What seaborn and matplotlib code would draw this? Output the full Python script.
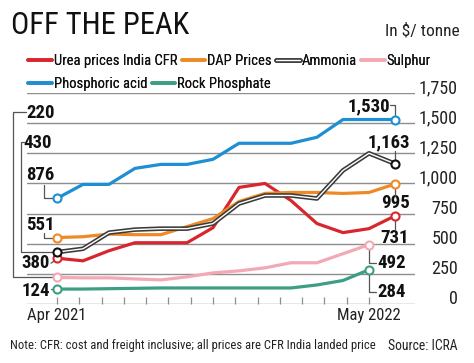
import os
import numpy as np
import matplotlib
matplotlib.use('Agg')
import matplotlib.pyplot as plt
import seaborn as sns
from matplotlib import font_manager as fm
from matplotlib.lines import Line2D
from matplotlib.legend_handler import HandlerTuple

# monthly prices, Apr 2021 .. May 2022 (in $/tonne)
months = list(range(14))
urea = [380, 358, 442, 508, 508, 508, 633, 967, 1000, 858, 667, 592, 625, 731]
dap = [551, 558, 580, 575, 575, 642, 708, 850, 917, 925, 925, 917, 925, 995]
ammonia = [430, 458, 592, 617, 625, 625, 667, 833, 900, 900, 875, 1108, 1250, 1163]
phos_acid = [876, 992, 992, 1125, 1158, 1158, 1200, 1333, 1333, 1333, 1383, 1530, 1530, 1530]
sulphur = [220, 217, 217, 208, 200, 225, 258, 275, 300, 342, 342, 417, 492]
rock = [124, 124, 127, 130, 133, 133, 133, 133, 133, 133, 158, 195, 284]

y_ticks = [0, 250, 500, 750, 1000, 1250, 1500, 1750]
y_labels = ['0', '250', '500', '750', '1,000', '1,250', '1,500', '1,750']
x_first, x_last = 'Apr 2021', 'May 2022'

RED = '#d9262e'
ORANGE = '#ee8a25'
DARK = '#3a3a3a'
PINK = '#f2a9b3'
BLUE = '#1d8fd2'
GREEN = '#3d9e84'
GRID = '#8e8e8e'

sns.set_theme(style='white')

# look for a narrow / condensed face among the installed fonts
cands = ['liberationsansnarrow-regular', 'robotocondensed-regular',
         'opensans_condensed-regular', 'opensanscondensed-regular',
         'notosans-condensed.', 'notosans-condensedregular',
         'dejavusanscondensed.ttf']
chosen = None
for c in cands:
    for e in fm.fontManager.ttflist:
        if c in os.path.basename(e.fname).lower():
            chosen = e
            break
    if chosen is not None:
        break
if chosen is not None:
    plt.rcParams['font.family'] = [chosen.name, 'DejaVu Sans']
    plt.rcParams['font.stretch'] = chosen.stretch
else:
    plt.rcParams['font.family'] = ['DejaVu Sans']
plt.rcParams['text.color'] = '#111111'

W, H = 474, 363
fig = plt.figure(figsize=(W / 100, H / 100), dpi=100)
ax = fig.add_axes([27 / W, (H - 304) / H, 388 / W, 211 / H])
ax.set_xlim(-30 / 26, 13 + 20 / 26)
ax.set_ylim(0, 1750)

lw = 2.3
sns.lineplot(x=months, y=phos_acid, ax=ax, color=BLUE, lw=lw)
sns.lineplot(x=months[:len(rock)], y=rock, ax=ax, color=GREEN, lw=lw)
sns.lineplot(x=months[:len(sulphur)], y=sulphur, ax=ax, color=PINK, lw=lw)
sns.lineplot(x=months, y=urea, ax=ax, color=RED, lw=lw)
sns.lineplot(x=months, y=dap, ax=ax, color=ORANGE, lw=lw)
sns.lineplot(x=months, y=ammonia, ax=ax, color=DARK, lw=3.3)
sns.lineplot(x=months, y=ammonia, ax=ax, color='white', lw=1.0)

# open circles at the start and end of each series
for ser, col in [(phos_acid, BLUE), (rock, GREEN), (sulphur, PINK),
                 (urea, RED), (dap, ORANGE), (ammonia, '#111111')]:
    xs = [0, len(ser) - 1]
    ys = [ser[0], ser[-1]]
    ax.plot(xs, ys, ls='none', marker='o', ms=5.8, mfc='white', mec=col,
            mew=1.5, clip_on=False, zorder=5)

ax.set_yticks(y_ticks, labels=y_labels, ha='right', va='baseline')
ax.yaxis.tick_right()
ax.tick_params(axis='y', length=0, pad=31, labelsize=13, labelcolor='#222222')
ax.grid(axis='y', color=GRID, lw=1)
ax.grid(axis='x', visible=False)
xt = np.linspace(0, 12, 15)
xl = [''] * 15
xl[0], xl[-1] = x_first, x_last
ax.set_xticks(xt, labels=xl)
ax.tick_params(axis='x', direction='in', length=5, width=0.9, color=GRID,
               pad=3, labelsize=12, labelcolor='#222222', bottom=True)
for s in ax.spines.values():
    s.set_visible(False)
ax.set_xlabel('')
ax.set_ylabel('')

fig.canvas.draw()


def callout(xi, yv, label, lab_off, path, col='#555555'):
    px, py = ax.transData.transform((xi, yv))
    inv = ax.transData.inverted()
    pts = [inv.transform((px + dx, py - dy)) for dx, dy in path]
    ax.plot([p[0] for p in pts], [p[1] for p in pts], color=col, lw=0.9,
            clip_on=False, zorder=4)
    tx, ty = inv.transform((px + lab_off[0], py - lab_off[1]))
    ax.text(tx, ty, label, ha='center', va='center', fontsize=13.5,
            fontweight='bold', color='#111111', clip_on=False)


callout(0, phos_acid[0], '876', (-17, -23), [(-13, -13), (-13, 0), (-4, 0)])
callout(0, dap[0], '551', (-17, -13), [(-13, -5), (-13, 0), (-4, 0)])
callout(0, ammonia[0], '430', (-19, -109), [(-33, -110), (-36, -110), (-36, 0), (-4, 0)])
callout(0, sulphur[0], '220', (-16, -164), [(-31, -165), (-44, -165), (-44, 0), (-4, 0)])
callout(0, urea[0], '380', (-21, 5), [(-6, 5), (-3, 3)])
callout(0, rock[0], '124', (-21, 2), [(-6, 0), (-4, 0)])
callout(13, phos_acid[-1], '1,530', (-26, -13), [(-5, -15), (0, -15), (0, -4)])
callout(13, ammonia[-1], '1,163', (-6, -21), [(0, -13), (0, -4)])
callout(13, dap[-1], '995', (0, 19), [(0, 4), (0, 12)])
callout(13, urea[-1], '731', (0, 22), [(0, 4), (0, 14)])
callout(12, sulphur[-1], '492', (23, 18), [(0, 4), (0, 18), (7, 18)])
callout(12, rock[-1], '284', (23, 22), [(0, 4), (0, 22), (7, 22)])

# titles
fig.text(11 / W, 1 - 25 / H, 'OFF THE PEAK', fontsize=22, va='center',
         ha='left', color='#111111')
fig.text(460 / W, 1 - 31 / H, 'In $/ tonne', fontsize=12.5, va='center',
         ha='right', color='#222222')


def handle(col, dbl=False):
    if dbl:
        return (Line2D([], [], color=DARK, lw=3.3), Line2D([], [], color='white', lw=1.0))
    return Line2D([], [], color=col, lw=2.6)


row1 = [(handle(RED), 'Urea prices India CFR'), (handle(ORANGE), 'DAP Prices'),
        (handle(DARK, True), 'Ammonia'), (handle(PINK), 'Sulphur')]
row2 = [(handle(BLUE), 'Phosphoric acid'), (handle(GREEN), 'Rock Phosphate')]
for row, yc in [(row1, 61), (row2, 84)]:
    leg = fig.legend([h for h, _ in row], [t for _, t in row], ncol=len(row),
                     loc='center left', bbox_to_anchor=(21 / W, 1 - yc / H),
                     frameon=False, fontsize=10.5, handlelength=1.6,
                     handletextpad=0.15, columnspacing=0.3, borderpad=0,
                     handler_map={tuple: HandlerTuple(ndivide=1, pad=0)})
    fig.add_artist(leg)

fig.text(10 / W, 1 - 346 / H,
         'Note: CFR: cost and freight inclusive; all prices are CFR India landed price',
         fontsize=9.1, va='center', ha='left', color='#222222')
fig.text(458 / W, 1 - 346 / H, 'Source: ICRA', fontsize=9.8, va='center',
         ha='right', color='#222222')

fig.savefig('out.png', dpi=100)
